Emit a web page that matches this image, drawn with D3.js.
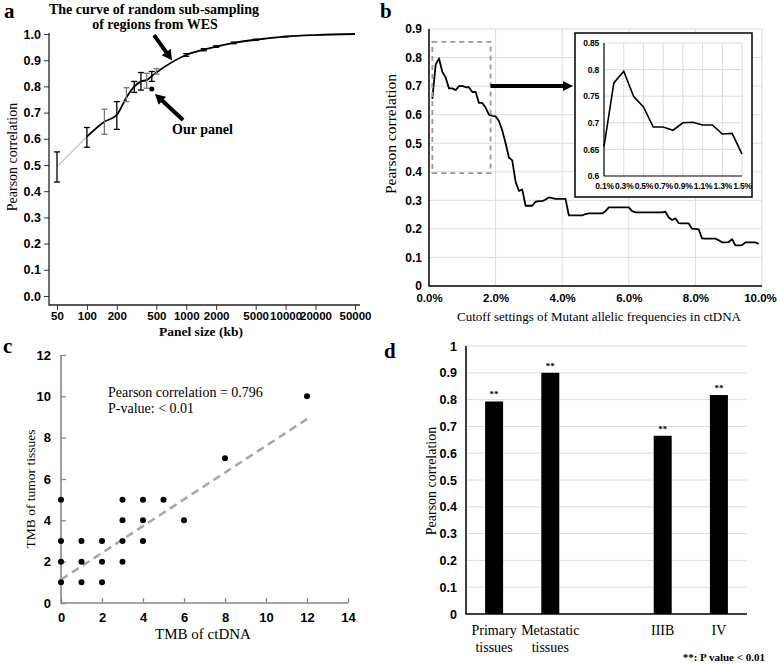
<!DOCTYPE html>
<html>
<head>
<meta charset="utf-8">
<title>Panel size and TMB correlation</title>
<script src="https://cdn.jsdelivr.net/npm/d3@7"></script>
<style>
  body { margin: 0; background: #fff; }
  svg { font-family: "Liberation Serif", "Times New Roman", serif; }
  .tick text { font-weight: bold; }
</style>
</head>
<body>
<script>
// ---- panel a : random sub-sampling of WES regions
var sizeKb   = [50, 100, 150, 200, 250, 300, 350, 400, 450, 500, 1000, 1500, 2000, 3000, 5000, 10000, 20000, 50000]
var corrMean = [0.494, 0.608, 0.665, 0.691, 0.758, 0.799, 0.819, 0.824, 0.840, 0.853, 0.920, 0.940, 0.952, 0.966, 0.978, 0.990, 0.996, 1.000]
var corrLow  = [0.435, 0.568, 0.617, 0.636, 0.742, 0.777, 0.786, 0.793, 0.819, 0.847, 0.915, 0.936, 0.949, 0.963, 0.976, 0.989, 0.996, 1.000]
var corrHigh = [0.550, 0.643, 0.713, 0.742, 0.795, 0.819, 0.853, 0.850, 0.857, 0.868, 0.925, 0.944, 0.955, 0.969, 0.980, 0.991, 0.996, 1.000]
var grayBarSizes = [150, 250, 400, 500]
var ourPanelKb = 450, ourPanelCorr = 0.79
var sizeTicks = [50, 100, 200, 500, 1000, 2000, 5000, 10000, 20000, 50000]

// ---- panel b : correlation vs MAF cutoff (%)
var mafCutoff = [0.1,0.2,0.3,0.4,0.5,0.6,0.7,0.8,0.9,1.0,1.1,1.2,1.3,1.4,1.5,1.6,1.7,1.8,1.9,2.0,
  2.1,2.2,2.3,2.4,2.5,2.6,2.7,2.8,2.9,3.0,3.1,3.2,3.3,3.4,3.5,3.6,3.7,3.8,3.9,4.0,
  4.1,4.2,4.3,4.4,4.5,4.6,4.7,4.8,4.9,5.0,5.1,5.2,5.3,5.4,5.5,5.6,5.7,5.8,5.9,6.0,
  6.1,6.2,6.3,6.4,6.5,6.6,6.7,6.8,6.9,7.0,7.1,7.2,7.3,7.4,7.5,7.6,7.7,7.8,7.9,8.0,
  8.1,8.2,8.3,8.4,8.5,8.6,8.7,8.8,8.9,9.0,9.1,9.2,9.3,9.4,9.5,9.6,9.7,9.8,9.9]
var mafCorr = [0.655,0.775,0.797,0.750,0.730,0.692,0.692,0.686,0.700,0.701,0.696,0.696,0.679,0.680,0.641,0.641,0.625,0.600,0.596,0.594,
  0.578,0.545,0.500,0.450,0.440,0.365,0.333,0.338,0.281,0.281,0.281,0.295,0.297,0.297,0.303,0.310,0.308,0.305,0.305,0.305,
  0.305,0.247,0.247,0.247,0.247,0.247,0.252,0.254,0.254,0.254,0.254,0.254,0.262,0.275,0.275,0.275,0.275,0.275,0.275,0.275,
  0.262,0.258,0.258,0.258,0.258,0.258,0.258,0.258,0.258,0.258,0.260,0.240,0.231,0.237,0.220,0.219,0.219,0.219,0.200,0.200,
  0.198,0.167,0.166,0.166,0.166,0.166,0.160,0.153,0.153,0.154,0.164,0.142,0.142,0.143,0.153,0.153,0.153,0.153,0.147]
var insetMaxCutoff = 1.5
var insetTicks = [0.1, 0.3, 0.5, 0.7, 0.9, 1.1, 1.3, 1.5]

// ---- panel c : TMB ctDNA vs tissue
var tmbCtdna  = [0, 0, 0, 0, 1, 1, 1, 2, 2, 2, 3, 3, 3, 3, 4, 4, 4, 5, 6, 8, 12]
var tmbTissue = [5, 3, 2, 1, 3, 2, 1, 3, 2, 1, 5, 4, 3, 2, 5, 4, 3, 5, 4, 7, 10]
var fitX = [0, 12], fitY = [1.13, 8.9]

// ---- panel d : correlation by subgroup
var groups   = ['Primary tissues', 'Metastatic tissues', '', 'IIIB', 'IV']
var groupCorr = [0.793, 0.900, null, 0.665, 0.817]

var W = 777, H = 664
var svg = d3.select(document.body).append('svg')
    .attr('width', W)
    .attr('height', H)
svg.append('rect').attr('width', W).attr('height', H).attr('fill', '#fff')

function arrow(g, x1, y1, x2, y2, w, hl, hw) {
  var a = Math.atan2(y2 - y1, x2 - x1), L = Math.hypot(x2 - x1, y2 - y1)
  g.append('path')
    .attr('transform', 'translate(' + x1 + ',' + y1 + ') rotate(' + a * 180 / Math.PI + ')')
    .attr('d', 'M0,' + (-w / 2) + 'L' + (L - hl) + ',' + (-w / 2) + 'L' + (L - hl) + ',' + (-hw / 2) +
      'L' + L + ',0L' + (L - hl) + ',' + (hw / 2) + 'L' + (L - hl) + ',' + (w / 2) + 'L0,' + (w / 2) + 'Z')
    .attr('fill', '#000')
}

function panelLetter(t, x, y) {
  svg.append('text').attr('x', x).attr('y', y).text(t)
    .style('font-size', '21px').style('font-weight', 'bold')
}

// ================= panel a
var ga = svg.append('g')
var xA = d3.scaleLog().domain([50, 50000]).range([57, 355])
var yA = d3.scaleLinear().domain([0, 1]).range([296, 34])

ga.append('g')
    .attr('transform', 'translate(49,0)')
    .call(d3.axisLeft(yA).tickValues(d3.range(0, 11).map(function(i) { return i / 10 }))
      .tickFormat(d3.format('.1f')).tickSize(5).tickPadding(3))
    .call(function(s) { s.select('.domain').remove() })
    .selectAll('.tick text').style('font-size', '12.5px')
ga.append('g')
    .attr('transform', 'translate(0,305)')
    .call(d3.axisBottom(xA).tickValues(sizeTicks).tickFormat(d3.format('d')).tickSize(5).tickPadding(2))
    .call(function(s) { s.select('.domain').remove() })
    .selectAll('.tick text').style('font-size', '11.5px')
ga.selectAll('.tick line').attr('stroke', '#333')
ga.append('path').attr('d', 'M49,33V305H360').attr('fill', 'none').attr('stroke', '#222').attr('stroke-width', 1.3)

var ptsA = sizeKb.map(function(d, i) { return [xA(d), yA(corrMean[i])] })
ga.append('path').attr('d', d3.line()(ptsA.slice(0, 2)))
    .attr('fill', 'none').attr('stroke', '#999').attr('stroke-width', 1)
ga.append('path').attr('d', d3.line().curve(d3.curveMonotoneX)(ptsA.slice(1)))
    .attr('fill', 'none').attr('stroke', '#000').attr('stroke-width', 1.8)

sizeKb.forEach(function(d, i) {
  if (corrHigh[i] - corrLow[i] < 0.001) return
  var x = xA(d), c = grayBarSizes.indexOf(d) >= 0 ? '#777' : '#000'
  var e = ga.append('g').attr('stroke', c).attr('stroke-width', 1.3)
  e.append('line').attr('x1', x).attr('x2', x).attr('y1', yA(corrLow[i])).attr('y2', yA(corrHigh[i]))
  e.append('line').attr('x1', x - 3).attr('x2', x + 3).attr('y1', yA(corrLow[i])).attr('y2', yA(corrLow[i]))
  e.append('line').attr('x1', x - 3).attr('x2', x + 3).attr('y1', yA(corrHigh[i])).attr('y2', yA(corrHigh[i]))
})
ga.append('circle').attr('cx', xA(ourPanelKb)).attr('cy', yA(ourPanelCorr)).attr('r', 2.5).attr('fill', '#000')

arrow(ga, xA(474), yA(0.996), xA(719), yA(0.9), 4, 10, 11)
arrow(ga, xA(929), yA(0.672), xA(485), yA(0.771), 4, 10, 11)
ga.append('text').attr('x', 154).attr('y', 14).attr('text-anchor', 'middle')
    .style('font-size', '14px').style('font-weight', 'bold').text('The curve of random sub-sampling')
ga.append('text').attr('x', 155).attr('y', 29).attr('text-anchor', 'middle')
    .style('font-size', '14px').style('font-weight', 'bold').text('of regions from WES')
ga.append('text').attr('x', 172).attr('y', 134)
    .style('font-size', '14px').style('font-weight', 'bold').text('Our panel')
ga.append('text').attr('x', 201).attr('y', 336).attr('text-anchor', 'middle')
    .style('font-size', '13.5px').style('font-weight', 'bold').text('Panel size (kb)')
ga.append('text').attr('transform', 'translate(17,157) rotate(-90)').attr('text-anchor', 'middle')
    .style('font-size', '14px').text('Pearson correlation')
panelLetter('a', 4, 18)

// ================= panel b
var gb = svg.append('g')
var xB = d3.scaleLinear().domain([0, 10]).range([429, 762])
var yB = d3.scaleLinear().domain([0, 0.9]).range([286, 29])
var grid = '#dcdcdc'
gb.selectAll('.hg').data(d3.range(1, 10).map(function(i) { return i / 10 })).enter().append('line')
    .attr('x1', 429).attr('x2', 762).attr('y1', yB).attr('y2', yB).attr('stroke', grid)
gb.selectAll('.vg').data([2, 4, 6, 8, 10]).enter().append('line')
    .attr('x1', xB).attr('x2', xB).attr('y1', 29).attr('y2', 286).attr('stroke', grid)

gb.append('g')
    .attr('transform', 'translate(429,0)')
    .call(d3.axisLeft(yB).tickValues(d3.range(0, 10).map(function(i) { return i / 10 }))
      .tickFormat(function(d) { return d === 0 ? '0' : d3.format('.1f')(d) }).tickSize(0).tickPadding(7))
    .call(function(s) { s.select('.domain').remove() })
    .selectAll('.tick text').style('font-size', '12px')
gb.append('g')
    .attr('transform', 'translate(0,286)')
    .call(d3.axisBottom(xB).tickValues([0, 2, 4, 6, 8, 10])
      .tickFormat(function(d) { return d.toFixed(1) + '%' }).tickSize(0).tickPadding(8))
    .call(function(s) { s.select('.domain').remove() })
    .selectAll('.tick text').style('font-size', '11.5px')
    .attr('dx', function(d) { return d === 10 ? -2 : 0 })
gb.append('path').attr('d', 'M429,29V286H762').attr('fill', 'none').attr('stroke', '#000').attr('stroke-width', 1.5)

gb.append('path')
    .attr('d', d3.line().x(function(d, i) { return xB(d) }).y(function(d, i) { return yB(mafCorr[i]) })(mafCutoff))
    .attr('fill', 'none').attr('stroke', '#000').attr('stroke-width', 1.8).attr('stroke-linejoin', 'round')

// zoomed region marker
gb.append('rect').attr('x', xB(0.1)).attr('y', yB(0.855))
    .attr('width', xB(1.85) - xB(0.1)).attr('height', yB(0.395) - yB(0.855))
    .attr('fill', 'none').attr('stroke', '#999').attr('stroke-width', 1.8).attr('stroke-dasharray', '5,4')
arrow(gb, xB(1.85), yB(0.7), 573, yB(0.7), 4, 10, 10)

// inset
gb.append('rect').attr('x', 575).attr('y', 33).attr('width', 177).attr('height', 164)
    .attr('fill', '#fff').attr('stroke', '#000').attr('stroke-width', 1.5)
var xI = d3.scaleLinear().domain([0.1, 1.5]).range([604, 742])
var yI = d3.scaleLinear().domain([0.6, 0.85]).range([176, 43])
var insetY = [0.6, 0.65, 0.7, 0.75, 0.8, 0.85]
gb.selectAll('.ihg').data(insetY.slice(1)).enter().append('line')
    .attr('x1', 604).attr('x2', 742).attr('y1', yI).attr('y2', yI).attr('stroke', grid)
gb.selectAll('.ivg').data(insetTicks.slice(1)).enter().append('line')
    .attr('x1', xI).attr('x2', xI).attr('y1', 43).attr('y2', 176).attr('stroke', grid)
var gi = gb.append('g')
gi.append('g').attr('transform', 'translate(604,0)')
    .call(d3.axisLeft(yI).tickValues(insetY).tickFormat(function(d) { return d3.format('')(+d.toFixed(2)) })
      .tickSize(0).tickPadding(5))
    .call(function(s) { s.select('.domain').remove() })
gi.append('g').attr('transform', 'translate(0,176)')
    .call(d3.axisBottom(xI).tickValues(insetTicks).tickFormat(function(d) { return d.toFixed(1) + '%' })
      .tickSize(0).tickPadding(7))
    .call(function(s) { s.select('.domain').remove() })
gi.selectAll('.tick text').style('font-size', '8.5px').style('letter-spacing', '-0.2px')
gb.append('path').attr('d', 'M604,43V176H742').attr('fill', 'none').attr('stroke', '#000').attr('stroke-width', 1.2)
var insetIdx = mafCutoff.map(function(d, i) { return i }).filter(function(i) { return mafCutoff[i] <= insetMaxCutoff })
gb.append('path')
    .attr('d', d3.line().x(function(i) { return xI(mafCutoff[i]) }).y(function(i) { return yI(mafCorr[i]) })(insetIdx))
    .attr('fill', 'none').attr('stroke', '#000').attr('stroke-width', 1.6)

gb.append('text').attr('x', 599).attr('y', 321).attr('text-anchor', 'middle')
    .style('font-size', '13px').text('Cutoff settings of Mutant allelic frequencies in ctDNA')
gb.append('text').attr('transform', 'translate(396,134) rotate(-90)').attr('text-anchor', 'middle')
    .style('font-size', '15.5px').text('Pearson correlation')
panelLetter('b', 380, 18)

// ================= panel c
var gc = svg.append('g')
var xC = d3.scaleLinear().domain([0, 14]).range([61, 348])
var yC = d3.scaleLinear().domain([0, 12]).range([603, 355])
gc.append('g').attr('transform', 'translate(61,0)')
    .call(d3.axisRight(yC).tickValues(d3.range(0, 13, 2)).tickSize(5).tickFormat(d3.format('d')))
    .call(function(s) { s.select('.domain').remove() })
    .selectAll('.tick text').attr('x', -10).attr('text-anchor', 'end')
gc.append('g').attr('transform', 'translate(0,603)')
    .call(d3.axisTop(xC).tickValues(d3.range(0, 15, 2)).tickSize(5).tickFormat(d3.format('d')))
    .call(function(s) { s.select('.domain').remove() })
    .selectAll('.tick text').attr('y', 19).attr('dy', null)
gc.selectAll('.tick text').style('font-size', '13px')
gc.selectAll('.tick line').attr('stroke', '#888').attr('stroke-width', 1.3)
gc.append('path').attr('d', 'M61,355V603H348').attr('fill', 'none').attr('stroke', '#888').attr('stroke-width', 1.6)

gc.append('line').attr('x1', xC(fitX[0])).attr('y1', yC(fitY[0])).attr('x2', xC(fitX[1])).attr('y2', yC(fitY[1]))
    .attr('stroke', '#a6a6a6').attr('stroke-width', 2.5).attr('stroke-dasharray', '8,5')
gc.selectAll('circle').data(tmbCtdna).enter().append('circle')
    .attr('cx', function(d) { return xC(d) })
    .attr('cy', function(d, i) { return yC(tmbTissue[i]) })
    .attr('r', 3).attr('fill', '#000')
gc.append('text').attr('x', 108).attr('y', 397).style('font-size', '14px').text('Pearson correlation = 0.796')
gc.append('text').attr('x', 108).attr('y', 413).style('font-size', '14px').text('P-value: < 0.01')
gc.append('text').attr('x', 203).attr('y', 639).attr('text-anchor', 'middle')
    .style('font-size', '15px').text('TMB of ctDNA')
gc.append('text').attr('transform', 'translate(35,489) rotate(-90)').attr('text-anchor', 'middle')
    .style('font-size', '13.5px').text('TMB of tumor tissues')
panelLetter('c', 3, 353)

// ================= panel d
var gd = svg.append('g')
var xD = d3.scaleBand().domain(groups).range([466, 747]).paddingInner(0.68).paddingOuter(0.34)
var yD = d3.scaleLinear().domain([0, 1]).range([614, 346])
gd.selectAll('.hg').data(d3.range(1, 11).map(function(i) { return i / 10 })).enter().append('line')
    .attr('x1', 466).attr('x2', 747).attr('y1', yD).attr('y2', yD).attr('stroke', grid)
gd.append('g').attr('transform', 'translate(466,0)')
    .call(d3.axisLeft(yD).tickValues(d3.range(0, 11).map(function(i) { return i / 10 }))
      .tickFormat(function(d) { return d === 0 || d === 1 ? d3.format('d')(d) : d3.format('.1f')(d) })
      .tickSize(0).tickPadding(9))
    .call(function(s) { s.select('.domain').remove() })
gd.selectAll('.tick text').style('font-size', '12.5px')
gd.append('path').attr('d', 'M466,346V614H747').attr('fill', 'none').attr('stroke', '#000').attr('stroke-width', 1.5)

var bars = groups.map(function(g, i) { return { g: g, v: groupCorr[i] } }).filter(function(d) { return d.v != null })
gd.selectAll('.bar').data(bars).enter().append('rect')
    .attr('x', function(d) { return xD(d.g) })
    .attr('width', xD.bandwidth())
    .attr('y', function(d) { return yD(d.v) })
    .attr('height', function(d) { return yD(0) - yD(d.v) })
    .attr('fill', '#000')
gd.selectAll('.star').data(bars).enter().append('text')
    .attr('x', function(d) { return xD(d.g) + xD.bandwidth() / 2 })
    .attr('y', function(d) { return yD(d.v) - 4 })
    .attr('text-anchor', 'middle').style('font-size', '9px').style('font-weight', 'bold').text('**')
var lab = gd.selectAll('.lab').data(bars).enter().append('text')
    .attr('text-anchor', 'middle').style('font-size', '14px')
lab.selectAll('tspan').data(function(d) {
      return d.g.split(' ').map(function(w) { return { w: w, x: xD(d.g) + xD.bandwidth() / 2 } })
    }).enter().append('tspan')
    .attr('x', function(t) { return t.x })
    .attr('y', function(t, j) { return 635 + j * 17 })
    .text(function(t) { return t.w })
gd.append('text').attr('x', 765).attr('y', 661).attr('text-anchor', 'end')
    .style('font-size', '11px').style('font-weight', 'bold').text('**: P value < 0.01')
gd.append('text').attr('transform', 'translate(436,481) rotate(-90)').attr('text-anchor', 'middle')
    .style('font-size', '14px').text('Pearson correlation')
panelLetter('d', 384, 358)
</script>
</body>
</html>
